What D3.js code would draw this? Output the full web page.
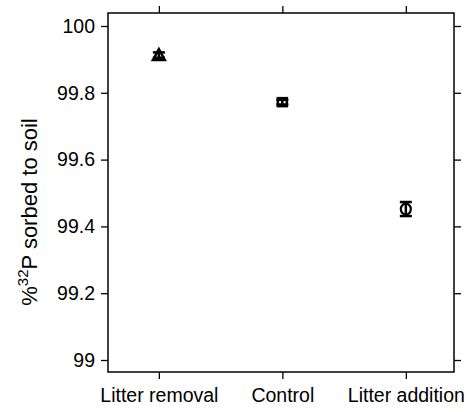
<!DOCTYPE html>
<html><head><meta charset="utf-8">
<script src="https://cdn.jsdelivr.net/npm/d3@7"></script>
<style>body{margin:0;background:#fff}svg{display:block}text{font-family:"Liberation Sans",Arial,sans-serif;fill:#000}</style>
</head><body>
<svg id="c" width="467" height="412"></svg>
<script>
const categories = ["Litter removal", "Control", "Litter addition"];
const means = [99.913, 99.772, 99.452];
const errors = [0.008, 0.007, 0.021];
const shapes = ["triangle", "square", "circle"];
const yTicks = [99, 99.2, 99.4, 99.6, 99.8, 100];
const yTickLabels = ["99", "99.2", "99.4", "99.6", "99.8", "100"];

const svg = d3.select("#c");
const L = 108, R = 454, T = 13, B = 372;
const x = d3.scaleLinear().domain([0.588, 3.39]).range([L, R]);
const y = d3.scaleLinear().domain([99, 100]).range([360, 26]);

const fs = 19.5;
svg.append("rect").attr("x", L).attr("y", T).attr("width", R - L).attr("height", B - T)
  .attr("fill", "none").attr("stroke", "#000").attr("stroke-width", 1.5);

const gl = svg.append("g").attr("transform", `translate(${L},0)`)
  .call(d3.axisLeft(y).tickValues(yTicks).tickFormat((d, i) => yTickLabels[i]).tickSize(7).tickPadding(6));
const gr = svg.append("g").attr("transform", `translate(${R},0)`)
  .call(d3.axisRight(y).tickValues(yTicks).tickFormat("").tickSize(7));
const gb = svg.append("g").attr("transform", `translate(0,${B})`)
  .call(d3.axisBottom(x).tickValues([1, 2, 3]).tickFormat((d, i) => categories[i]).tickSize(7).tickPadding(9));
const gt = svg.append("g").attr("transform", `translate(0,${T})`)
  .call(d3.axisTop(x).tickValues([1, 2, 3]).tickFormat("").tickSize(7));
[gl, gr, gb, gt].forEach(g => {
  g.select(".domain").remove();
  g.selectAll("line").attr("stroke", "#000").attr("stroke-width", 1.3);
  g.selectAll("text").attr("font-size", fs).attr("font-family", '"Liberation Sans",Arial,sans-serif').attr("fill", "#000");
});

const yt = svg.append("text").attr("transform", `translate(37,212) rotate(-90)`)
  .attr("text-anchor", "middle").attr("font-size", 22);
yt.append("tspan").text("%");
yt.append("tspan").attr("font-size", 15).attr("dy", -9).text("32");
yt.append("tspan").attr("dy", 9).text("P sorbed to soil");

const data = categories.map((c, i) => ({ c, i, m: means[i], e: errors[i], s: shapes[i] }));
const g = svg.append("g");
data.forEach(d => {
  const cx = x(d.i + 1), cy = y(d.m);
  const y1 = y(d.m + d.e), y2 = y(d.m - d.e);
  g.append("line").attr("x1", cx).attr("x2", cx).attr("y1", y1).attr("y2", y2).attr("stroke", "#000").attr("stroke-width", 2.5);
  [y1, y2].forEach(yy => g.append("line").attr("x1", cx - 6).attr("x2", cx + 6).attr("y1", yy).attr("y2", yy).attr("stroke", "#000").attr("stroke-width", 2.5));
  if (d.s === "triangle") {
    g.append("path").attr("d", `M${cx},${cy - 6} L${cx + 6},${cy + 5} L${cx - 6},${cy + 5}Z`)
      .attr("fill", "none").attr("stroke", "#000").attr("stroke-width", 2.5);
  } else if (d.s === "square") {
    g.append("rect").attr("x", cx - 4.5).attr("y", cy - 4).attr("width", 9).attr("height", 8)
      .attr("fill", "none").attr("stroke", "#000").attr("stroke-width", 2.5);
  } else {
    g.append("ellipse").attr("cx", cx).attr("cy", cy).attr("rx", 5).attr("ry", 5.5)
      .attr("fill", "none").attr("stroke", "#000").attr("stroke-width", 2.2);
  }
});
</script>
</body></html>
